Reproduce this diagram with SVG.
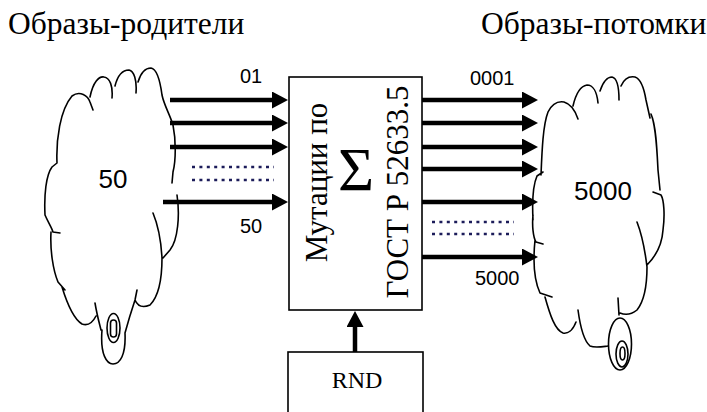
<svg xmlns="http://www.w3.org/2000/svg" width="707" height="412" viewBox="0 0 707 412">
<style>
.cloud{fill:none;stroke:#000;stroke-width:1.6;stroke-linecap:round;stroke-linejoin:round}
.box{fill:#fff;stroke:#000;stroke-width:1.6}
.arr{stroke:#000;stroke-width:4.5;fill:none}
.dots{stroke:#1c1c5a;stroke-width:2.6;stroke-dasharray:3 4.4;fill:none}
.serif{font-family:"Liberation Serif","Times New Roman",serif;fill:#000}
.sans{font-family:"Liberation Sans",Arial,sans-serif;fill:#000}
</style>
<defs>
<marker id="ah" viewBox="0 0 16 17" refX="8" refY="8.5" markerWidth="16" markerHeight="17" markerUnits="userSpaceOnUse" orient="auto">
<path d="M0,0 L16,8.5 L0,17 Z" fill="#000"/>
</marker>
</defs>

<text class="serif" x="8" y="34" font-size="31.5">Образы-родители</text>
<text class="serif" x="481" y="34" font-size="31.5">Образы-потомки</text>

<g id="parents">
<path class="cloud" d="M45,215 C44,195 46,175 52,167 L57,163 M57,163 C56,140 60,110 72,96 C80,90 88,96 90,102 L93,110
M90,97 C93,82 99,76 104,77 C110,78 113,86 112,98
M115,86 C118,74 124,70 129,70 C134,71 137,80 136,93
M138,82 C141,72 146,68 151,68 C157,69 160,80 162,95 C164,105 170,115 173,125 C176,140 176,160 173,172 L172,183
M177,195 C180,215 178,240 170,250 L163,258
M153,213 C158,225 161,240 162,258 C162,275 160,295 150,305 C143,308 138,307 135,300
M137,290 L135,300 C131,312 128,322 125,333
M45,215 C48,222 52,228 53,232 L60,233 M51,232 C50,250 53,270 58,282 L65,290
M62,287 C66,300 72,318 82,324 C88,326 93,322 96,316
M95,303 C97,315 99,322 101,330
M102,330 C100,355 107,364 113,364 C120,364 126,355 125,333"/>
<ellipse class="cloud" cx="113.5" cy="328" rx="6.5" ry="14.5"/>
<rect class="cloud" x="110.5" y="320" width="6" height="17" rx="3"/>
<text class="sans" x="113" y="188" font-size="26" text-anchor="middle">50</text>
</g>

<g id="offspring">
<path class="cloud" d="M533,220 C532,200 533,185 537,176 L543,172
M541,175 C542,150 543,125 548,112 C552,104 558,101 564,102 C571,104 575,110 578,119
M573,106 C576,93 581,86 587,85 C593,85 597,92 598,103
M600,91 C603,82 607,77 612,77 C617,78 619,88 619,100
M621,86 C624,79 629,76 635,77 C641,79 644,88 646,100 L650,118
M651,114 C656,125 657,150 658,170 L660,190
M653,192 L661,195 C664,200 665,215 663,230 C662,245 657,255 647,265
M637,222 C642,235 645,250 647,267 C647,280 645,300 637,310 C632,314 627,316 620,313
M618,298 L619,315
M533,215 C532,225 533,237 536,242 L543,244
M535,240 C533,260 534,280 540,293 L552,297
M545,297 C550,315 555,330 563,333 C568,334 573,330 576,322
M578,310 C580,325 583,340 590,346 C595,348 600,347 608,346"/>
<ellipse class="cloud" cx="620" cy="344" rx="11.5" ry="26"/>
<ellipse class="cloud" cx="622" cy="354" rx="6" ry="13"/>
<ellipse class="cloud" cx="622.5" cy="353.5" rx="2.5" ry="6.5"/>
<text class="sans" x="603" y="200" font-size="26" text-anchor="middle">5000</text>
</g>

<g id="mutation">
<rect class="box" x="289" y="77" width="133" height="233"/>
<text class="serif" transform="translate(327,182.5) rotate(-90)" font-size="31" text-anchor="middle">Мутации по</text>
<text class="serif" transform="translate(408,192) rotate(-90)" font-size="31" text-anchor="middle">ГОСТ Р 52633.5</text>
<text class="serif" x="356" y="190" font-size="62" text-anchor="middle">Σ</text>
</g>

<g id="rnd">
<rect class="box" x="288" y="352" width="135" height="80"/>
<text class="serif" x="357" y="388" font-size="24" text-anchor="middle">RND</text>
</g>

<g id="connectors">
<line class="arr" x1="170" y1="100" x2="280" y2="100" marker-end="url(#ah)"/>
<line class="arr" x1="170" y1="123" x2="280" y2="123" marker-end="url(#ah)"/>
<line class="arr" x1="170" y1="147" x2="280" y2="147" marker-end="url(#ah)"/>
<line class="arr" x1="163" y1="202" x2="280" y2="202" marker-end="url(#ah)"/>
<line class="dots" x1="192" y1="167" x2="274" y2="167"/>
<line class="dots" x1="192" y1="180" x2="274" y2="180"/>
<line class="arr" x1="422" y1="100" x2="530" y2="100" marker-end="url(#ah)"/>
<line class="arr" x1="422" y1="123" x2="530" y2="123" marker-end="url(#ah)"/>
<line class="arr" x1="422" y1="147" x2="530" y2="147" marker-end="url(#ah)"/>
<line class="arr" x1="422" y1="169" x2="530" y2="169" marker-end="url(#ah)"/>
<line class="arr" x1="422" y1="202" x2="530" y2="202" marker-end="url(#ah)"/>
<line class="arr" x1="422" y1="257" x2="530" y2="257" marker-end="url(#ah)"/>
<line class="dots" x1="432" y1="222" x2="514" y2="222"/>
<line class="dots" x1="432" y1="234" x2="514" y2="234"/>
<line class="arr" x1="355" y1="352" x2="355" y2="319" marker-end="url(#ah)"/>
<text class="sans" x="240" y="83" font-size="20">01</text>
<text class="sans" x="240" y="233" font-size="20">50</text>
<text class="sans" x="470" y="85" font-size="20">0001</text>
<text class="sans" x="475" y="285" font-size="20">5000</text>
</g>
</svg>
